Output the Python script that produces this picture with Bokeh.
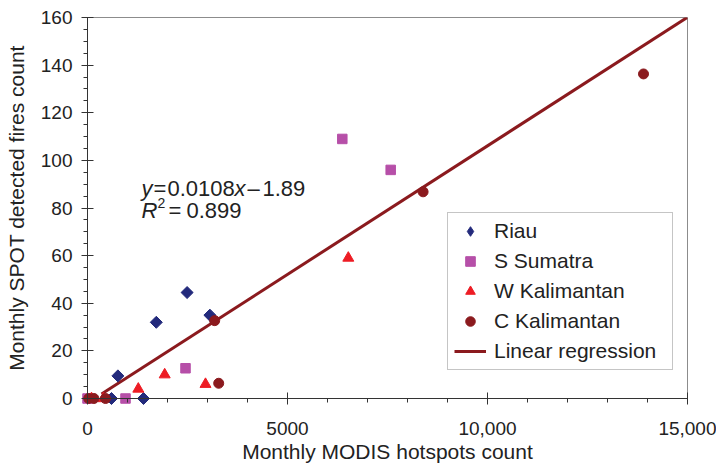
import math
from bokeh.plotting import figure
from bokeh.models import Range1d, FixedTicker, Legend, LegendItem, Label
from bokeh.embed import file_html
from bokeh.resources import INLINE

# ---- data ----
riau_x = [600, 1400, 760, 1720, 2490, 3060]
riau_y = [0, 0, 9.5, 32, 44.5, 35]

ssumatra_x = [0, 950, 2450, 6370, 7580]
ssumatra_y = [0, 0, 12.7, 109, 96]

wkal_x = [100, 400, 1270, 1930, 2950, 6520]
wkal_y = [0, 0, 4, 10, 6, 59]

ckal_x = [30, 160, 450, 3180, 3280, 8390, 13900]
ckal_y = [0, 0, 0, 32.7, 6.4, 86.8, 136.3]

slope = 0.0108
intercept = -1.89
r2 = 0.899
fit_x = [350, 15000]
fit_y = [slope * v + intercept for v in fit_x]

x_ticks = [0, 5000, 10000, 15000]
x_tick_labels = ["0", "5000", "10,000", "15,000"]
x_minor = list(range(0, 15001, 1000))
y_ticks = list(range(0, 161, 20))
y_minor = list(range(0, 161, 5))

FONT = "Liberation Sans"
TXT = "#222222"

p = figure(width=716, height=470, output_backend="svg", toolbar_location=None,
           x_range=Range1d(0, 15000), y_range=Range1d(0, 160),
           min_border_left=87, min_border_right=29, min_border_top=17,
           min_border_bottom=72)
p.grid.visible = False
p.outline_line_color = "#8c8c8c"
p.outline_line_width = 1
p.background_fill_color = "white"
p.border_fill_color = "white"

for ax in (p.xaxis[0], p.yaxis[0]):
    ax.axis_line_color = "#333333"
    ax.major_tick_line_color = "#333333"
    ax.minor_tick_line_color = "#333333"
    ax.major_tick_in = 6
    ax.major_tick_out = 6
    ax.minor_tick_in = 0
    ax.minor_tick_out = 4
    ax.major_label_text_font = FONT
    ax.major_label_text_font_size = "19px"
    ax.major_label_text_color = TXT
    ax.axis_label_text_font = FONT
    ax.axis_label_text_font_size = "21px"
    ax.axis_label_text_font_style = "normal"
    ax.axis_label_text_color = TXT

p.xaxis.ticker = FixedTicker(ticks=x_ticks, minor_ticks=x_minor)
p.xaxis.major_label_overrides = dict(zip(x_ticks, x_tick_labels))
p.yaxis.ticker = FixedTicker(ticks=y_ticks, minor_ticks=y_minor)
p.xaxis.axis_label = "Monthly MODIS hotspots count"
p.yaxis.axis_label = "Monthly SPOT detected fires count"
p.xaxis.major_label_standoff = 17
p.yaxis.major_label_standoff = 9
p.xaxis.axis_label_standoff = 2
p.yaxis.axis_label_standoff = 10

r_line = p.line(fit_x, fit_y, line_color="#8b1a1e", line_width=3)

RIAU_C = "#232a7c"
# legend key glyph for Riau (hidden underneath the rotated squares)
r_riau_key = p.scatter(riau_x, riau_y, marker="diamond", size=9,
                       fill_color=RIAU_C, line_color=RIAU_C)
r_riau = p.scatter(riau_x, riau_y, marker="square", angle=math.pi / 4, size=8.5,
                   fill_color=RIAU_C, line_color=RIAU_C, level="guide")
r_ss = p.scatter(ssumatra_x, ssumatra_y, marker="square", size=9.5,
                 fill_color="#b64fa8", line_color="#b64fa8", level="guide")
r_wk = p.scatter(wkal_x, wkal_y, marker="triangle", size=11,
                 fill_color="#ed1c24", line_color="#ed1c24", level="guide")
r_ck = p.scatter(ckal_x, ckal_y, marker="circle", size=10,
                 fill_color="#8b1a1e", line_color="#8b1a1e", level="guide")

legend = Legend(items=[
    LegendItem(label="Riau", renderers=[r_riau_key]),
    LegendItem(label="S Sumatra", renderers=[r_ss]),
    LegendItem(label="W Kalimantan", renderers=[r_wk]),
    LegendItem(label="C Kalimantan", renderers=[r_ck]),
    LegendItem(label="Linear regression", renderers=[r_line]),
], location=(360, 28))
legend.label_text_font = FONT
legend.label_text_font_size = "21px"
legend.label_text_color = TXT
legend.glyph_width = 32
legend.glyph_height = 24
legend.label_height = 24
legend.label_width = 172
legend.spacing = 6
legend.padding = 6
legend.margin = 0
legend.label_standoff = 8
legend.border_line_color = "#8c8c8c"
legend.border_line_width = 1
legend.background_fill_color = "white"
legend.background_fill_alpha = 1.0
p.add_layout(legend)

# regression equation text
def lab(x, y, text, style="normal", size="22px"):
    p.add_layout(Label(x=x, y=y, text=text, text_font=FONT, text_font_size=size,
                       text_font_style=style, text_color=TXT,
                       text_baseline="alphabetic", text_align="left"))

eq_y1 = 88.2
eq_y2 = 78.9
lab(1350, eq_y1, "y", "italic")
lab(1650, eq_y1, "=")
lab(2000, eq_y1, f"{slope:.4f}")
lab(3675, eq_y1, "x", "italic")
lab(4000, eq_y1, "\u2013")
lab(4375, eq_y1, f"{abs(intercept):.2f}")
lab(1350, eq_y2, "R", "italic")
lab(1750, eq_y2 + 3.2, "2", "normal", "14px")
lab(2025, eq_y2, "=")
lab(2475, eq_y2, f"{r2:.3f}")

open("out.html", "w").write(file_html(p, INLINE))
